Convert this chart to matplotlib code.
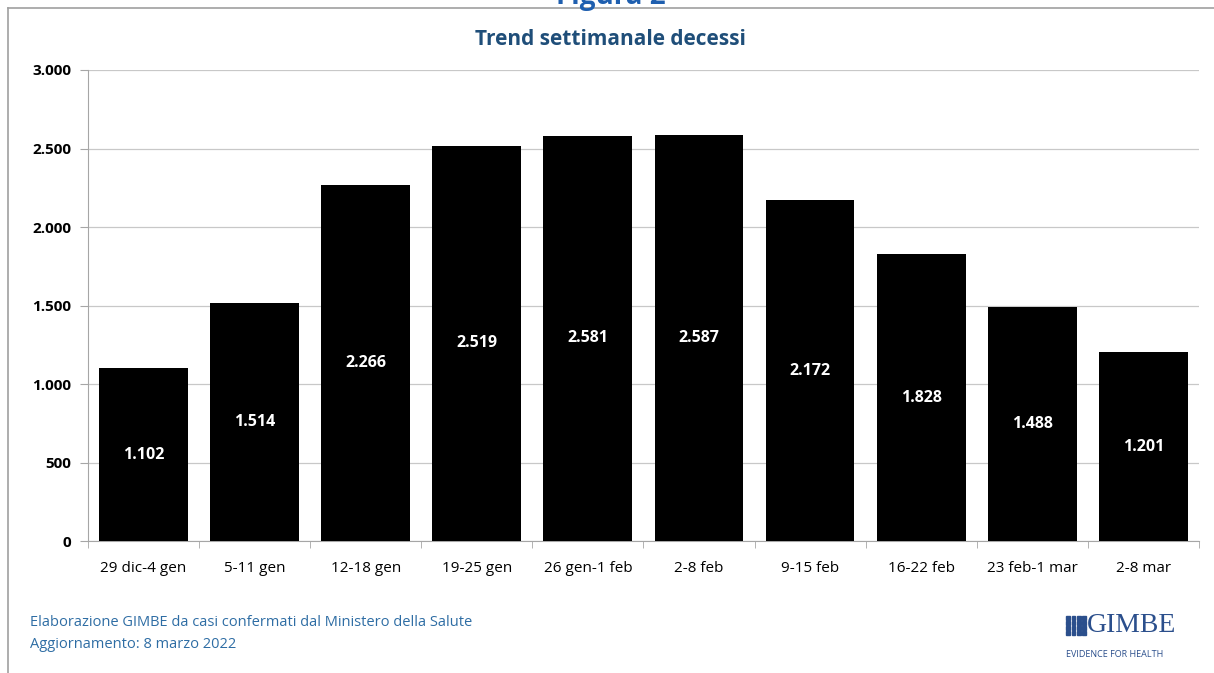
import matplotlib.pyplot as plt
import matplotlib.patches as mpatches
import numpy as np

plt.rcParams['font.family'] = ['Open Sans', 'DejaVu Sans']

# dati
settimane = ['29 dic-4 gen', '5-11 gen', '12-18 gen', '19-25 gen', '26 gen-1 feb',
             '2-8 feb', '9-15 feb', '16-22 feb', '23 feb-1 mar', '2-8 mar']
decessi = [1102, 1514, 2266, 2519, 2581, 2587, 2172, 1828, 1488, 1201]
yticks = [0, 500, 1000, 1500, 2000, 2500, 3000]

blu = '#1F4E79'
blu_testo = '#2E6DA4'

fig = plt.figure(figsize=(12.14, 6.73), dpi=100)
ax = fig.add_axes([0.0725, 0.196, 0.915, 0.70])

x = np.arange(len(settimane))
ax.bar(x, decessi, width=0.8, color='black', zorder=3)
for xi, v in zip(x, decessi):
    ax.text(xi, v / 2, f'{v:,}'.replace(',', '.'), ha='center', va='center',
            color='white', fontsize=11.5, fontweight='bold', zorder=4)

ax.set_xlim(-0.5, len(settimane) - 0.5)
ax.set_ylim(0, 3000)
ax.set_yticks(yticks)
ax.set_yticklabels([f'{t:,}'.replace(',', '.') for t in yticks],
                   fontsize=11, fontweight='bold')
ax.set_xticks(x)
ax.set_xticklabels(settimane, fontsize=11)
ax.set_xticks(np.arange(len(settimane) + 1) - 0.5, minor=True)
ax.tick_params(axis='x', which='major', length=0, pad=14)
ax.tick_params(axis='x', which='minor', length=5, color='#A6A6A6')
ax.tick_params(axis='y', length=6, color='#A6A6A6', pad=6)
ax.grid(axis='y', color='#C8C8C8', linewidth=0.9, zorder=0)
for s in ['top', 'right']:
    ax.spines[s].set_visible(False)
for s in ['left', 'bottom']:
    ax.spines[s].set_color('#A6A6A6')

# cornice e titoli
fig.add_artist(plt.Line2D([0.0066, 0.0066], [0, 0.988], color='#A0A0A0', lw=1.2))
fig.add_artist(plt.Line2D([0.0066, 1], [0.988, 0.988], color='#A0A0A0', lw=1.2))
fig.text(0.503, 1.005, 'Figura 2', ha='center', va='center', color='#1F5FAF',
         fontsize=20, fontweight='bold')
fig.text(0.503, 0.942, 'Trend settimanale decessi', ha='center', va='center',
         color=blu, fontsize=15, fontweight='bold')

fig.text(0.025, 0.075, 'Elaborazione GIMBE da casi confermati dal Ministero della Salute',
         color=blu_testo, fontsize=10.5, va='center')
fig.text(0.025, 0.043, 'Aggiornamento: 8 marzo 2022', color=blu_testo,
         fontsize=10.5, va='center')

# logo GIMBE
for i in range(4):
    for j in range(4):
        fig.add_artist(mpatches.Rectangle((0.8785 + i * 0.0042, 0.056 + j * 0.0075),
                                          0.0032, 0.0058, color='#2B4F8C',
                                          transform=fig.transFigure))
fig.text(0.8955, 0.0705, 'GIMBE', family='Liberation Serif', color='#2B4F8C',
         fontsize=20, va='center')
fig.text(0.8785, 0.028, 'EVIDENCE FOR HEALTH', color='#2B4F8C', fontsize=6.5,
         va='center')

fig.savefig('out.png', dpi=100)
